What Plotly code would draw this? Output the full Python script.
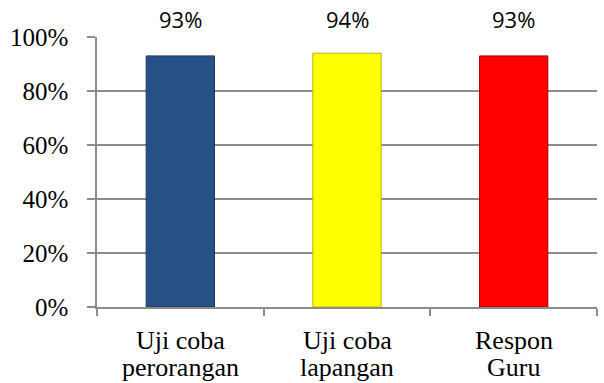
import plotly.graph_objects as go

# Data
categories = ["Uji coba perorangan", "Uji coba lapangan", "Respon Guru"]
label_lines = [["Uji coba", "perorangan"], ["Uji coba", "lapangan"], ["Respon", "Guru"]]
values = [0.93, 0.94, 0.93]
bar_colors = ["#265086", "#FFFF00", "#FF0000"]
edge_colors = ["#1B3A62", "#B8B800", "#B00000"]
y_ticks = [0, 0.2, 0.4, 0.6, 0.8, 1.0]
y_tick_text = ["0%", "20%", "40%", "60%", "80%", "100%"]

grid_color = "#8C8C8C"
serif = "Liberation Serif"

fig = go.Figure(
    go.Bar(
        x=categories,
        y=values,
        marker=dict(color=bar_colors, line=dict(color=edge_colors, width=1)),
        width=0.41,
        hoverinfo="skip",
    )
)

# Value labels sit in a row above the plot area
annotations = []
for cat, v in zip(categories, values):
    annotations.append(dict(
        x=cat, y=1.0, xref="x", yref="paper",
        text=f"{round(v * 100)}%", showarrow=False,
        yanchor="bottom", yshift=1,
        font=dict(family="Open Sans", size=22, color="#000000"),
    ))

# Two-line category labels under the axis
for cat, lines in zip(categories, label_lines):
    for i, line in enumerate(lines):
        annotations.append(dict(
            x=cat, y=0, xref="x", yref="paper",
            text=line, showarrow=False,
            yanchor="middle", yshift=-33 - 27 * i,
            font=dict(family=serif, size=26, color="#000000"),
        ))

fig.update_layout(
    width=604,
    height=383,
    margin=dict(l=97, r=7, t=37, b=76),
    plot_bgcolor="white",
    paper_bgcolor="white",
    showlegend=False,
    annotations=annotations,
    font=dict(family=serif, size=24, color="#000000"),
    xaxis=dict(
        showticklabels=False,
        tickson="boundaries",
        ticks="outside",
        ticklen=7,
        tickwidth=1.5,
        tickcolor=grid_color,
        showline=True,
        linecolor=grid_color,
        linewidth=1.5,
        showgrid=False,
        range=[-0.5, 2.5],
    ),
    yaxis=dict(
        range=[0, 1.0],
        tickvals=y_ticks,
        ticktext=y_tick_text,
        ticks="outside",
        ticklen=8,
        tickwidth=1.5,
        tickcolor=grid_color,
        showline=True,
        linecolor=grid_color,
        linewidth=1.5,
        showgrid=True,
        gridcolor=grid_color,
        gridwidth=1.5,
        zeroline=False,
        ticklabelstandoff=14,
        tickfont=dict(family=serif, size=25, color="#000000"),
    ),
)

fig.write_html("out.html")
